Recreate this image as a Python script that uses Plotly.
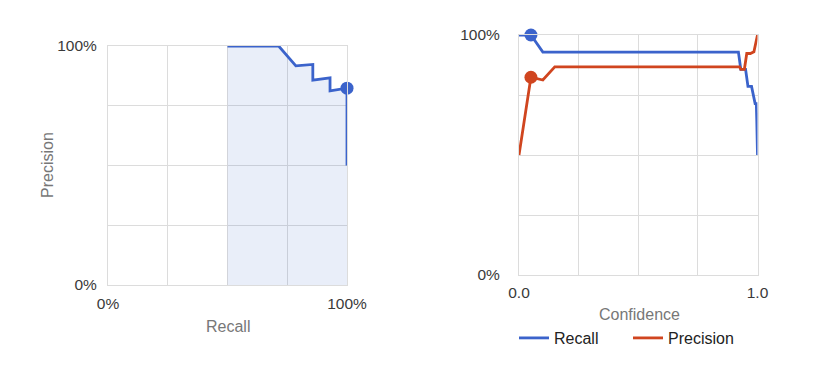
import plotly.graph_objects as go

# PR curve (left)
pr_recall = [0.5, 0.714, 0.786, 0.857, 0.857, 0.929, 0.929, 1.0, 1.0]
pr_precision = [1.0, 1.0, 0.917, 0.923, 0.857, 0.867, 0.8125, 0.8235, 0.5]
pr_marker_recall = [1.0]
pr_marker_precision = [0.8235]

# Confidence curves (right)
rec_conf = [0.0, 0.05, 0.10, 0.92, 0.93, 0.95, 0.96, 0.975, 0.99, 0.995, 0.997, 1.0]
rec_vals = [1.0, 1.0, 0.929, 0.929, 0.857, 0.857, 0.786, 0.786, 0.714, 0.714, 0.643, 0.5]
prec_conf = [0.0, 0.05, 0.10, 0.15, 0.925, 0.93, 0.945, 0.955, 0.97, 0.985, 1.0]
prec_vals = [0.5, 0.824, 0.8125, 0.867, 0.867, 0.857, 0.857, 0.923, 0.923, 0.93, 1.0]
marker_conf = [0.05]
marker_recall = [1.0]
marker_precision = [0.824]

BLUE = "#3b63cb"
RED = "#d0451f"
GRID = "#dcdcdc"
FONT = "Arial, Liberation Sans, sans-serif"
LW = 2.8

fig = go.Figure()
fig.add_trace(go.Scatter(x=pr_recall, y=pr_precision, mode="lines", fill="tozeroy",
                         fillcolor="rgba(59,99,203,0.11)", line=dict(color=BLUE, width=LW),
                         xaxis="x", yaxis="y", showlegend=False))
fig.add_trace(go.Scatter(x=pr_marker_recall, y=pr_marker_precision, mode="markers",
                         marker=dict(color=BLUE, size=13), cliponaxis=False,
                         xaxis="x", yaxis="y", showlegend=False))
fig.add_trace(go.Scatter(x=rec_conf, y=rec_vals, mode="lines", name="Recall",
                         line=dict(color=BLUE, width=LW), xaxis="x2", yaxis="y2"))
fig.add_trace(go.Scatter(x=prec_conf, y=prec_vals, mode="lines", name="Precision",
                         line=dict(color=RED, width=LW), xaxis="x2", yaxis="y2"))
fig.add_trace(go.Scatter(x=marker_conf, y=marker_recall, mode="markers",
                         marker=dict(color=BLUE, size=13), cliponaxis=False,
                         xaxis="x2", yaxis="y2", showlegend=False))
fig.add_trace(go.Scatter(x=marker_conf, y=marker_precision, mode="markers",
                         marker=dict(color=RED, size=13), cliponaxis=False,
                         xaxis="x2", yaxis="y2", showlegend=False))

W, H = 823, 385
OFF = 8  # page body margin
def px_x(p): return (p - OFF) / W
def px_y(p): return (H - (p - OFF)) / H

ax_common = dict(showgrid=True, gridcolor=GRID, gridwidth=1, zeroline=False,
                 showline=True, linecolor=GRID, linewidth=1, mirror=True,
                 ticks="", tickfont=dict(family=FONT, size=15.5, color="#3a3a3a"),
                 fixedrange=True, automargin=False)
pct_ticks = ["0%", "", "", "", "100%"]
tv = [0, 0.25, 0.5, 0.75, 1]

fig.update_layout(
    width=W, height=H, margin=dict(l=0, r=0, t=0, b=0, autoexpand=False),
    paper_bgcolor="white", plot_bgcolor="white",
    font=dict(family=FONT),
    xaxis=dict(domain=[px_x(108), px_x(347)], range=[0, 1], tickvals=tv, ticktext=pct_ticks,
               anchor="y", ticklabelstandoff=4, **ax_common),
    yaxis=dict(domain=[px_y(285), px_y(46)], range=[0, 1], tickvals=tv, ticktext=pct_ticks,
               anchor="x", ticklabelstandoff=7, **ax_common),
    xaxis2=dict(domain=[px_x(519), px_x(757.5)], range=[0, 1], tickvals=tv,
                ticktext=["0.0", "", "", "", "1.0"], anchor="y2", ticklabelstandoff=3, **ax_common),
    yaxis2=dict(domain=[px_y(275), px_y(35)], range=[0, 1], tickvals=tv, ticktext=pct_ticks,
                anchor="x2", ticklabelstandoff=15, **ax_common),
    showlegend=True,
    legend=dict(orientation="h", x=px_x(514), xanchor="left", y=px_y(338), yanchor="middle",
                entrywidth=69, entrywidthmode="pixels",
                font=dict(family=FONT, size=16, color="#222"), bgcolor="rgba(0,0,0,0)"),
    annotations=[
        dict(text="Recall", x=px_x(228), y=px_y(326), xref="paper", yref="paper",
             showarrow=False, font=dict(family=FONT, size=16, color="#777"),
             xanchor="center", yanchor="middle"),
        dict(text="Precision", x=px_x(47), y=px_y(165), xref="paper", yref="paper",
             showarrow=False, textangle=-90, font=dict(family=FONT, size=16, color="#777"),
             xanchor="center", yanchor="middle"),
        dict(text="Confidence", x=px_x(639), y=px_y(314), xref="paper", yref="paper",
             showarrow=False, font=dict(family=FONT, size=16, color="#777"),
             xanchor="center", yanchor="middle"),
    ],
)

fig.write_html("out.html")
